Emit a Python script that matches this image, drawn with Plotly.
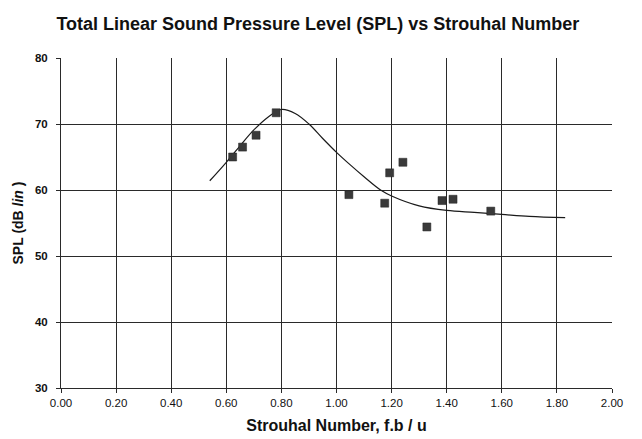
import plotly.graph_objects as go

# measured points
strouhal = [0.623, 0.659, 0.708, 0.781, 1.045, 1.175, 1.193, 1.241, 1.328, 1.383, 1.423, 1.56]
spl = [65.0, 66.5, 68.3, 71.7, 59.3, 58.0, 62.6, 64.2, 54.4, 58.4, 58.6, 56.8]

# fitted curve
curve_x = [0.54, 0.60, 0.65, 0.70, 0.75, 0.80, 0.85, 0.90, 0.95, 1.00, 1.05, 1.10,
           1.16, 1.20, 1.30, 1.40, 1.50, 1.60, 1.70, 1.83]
curve_y = [61.4, 64.2, 66.7, 69.1, 71.0, 72.2, 71.6, 70.0, 67.8, 65.7, 63.8, 62.0,
           60.0, 59.1, 57.6, 56.9, 56.6, 56.3, 56.0, 55.8]

x_ticks = [0.0, 0.2, 0.4, 0.6, 0.8, 1.0, 1.2, 1.4, 1.6, 1.8, 2.0]
x_grid = [0.2, 0.4, 0.6, 0.8, 1.0, 1.2, 1.4, 1.6, 1.8]
y_ticks = [30, 40, 50, 60, 70, 80]
y_grid = [40, 50, 60, 70]

FONT = "Liberation Sans, Arial, sans-serif"
GRID = "#2a2a2a"

fig = go.Figure()
# invisible traces to activate overlay grid axes (drawn first, below data)
fig.add_trace(go.Scatter(x=[None], y=[None], xaxis="x2", yaxis="y2", showlegend=False, hoverinfo="skip"))
fig.add_trace(go.Scatter(x=[None], y=[None], xaxis="x2", yaxis="y3", showlegend=False, hoverinfo="skip"))
fig.add_trace(go.Scatter(x=curve_x, y=curve_y, mode="lines",
                         line=dict(color="#1a1a1a", width=1.2, shape="spline", smoothing=1.0),
                         showlegend=False, hoverinfo="skip"))
fig.add_trace(go.Scatter(x=strouhal, y=spl, mode="markers",
                         marker=dict(symbol="square", size=8, color="#3a3a3a",
                                     line=dict(color="#222", width=0.5)),
                         showlegend=False))

fig.update_layout(
    width=642, height=439,
    margin=dict(l=61, r=30, t=58, b=51),
    paper_bgcolor="white", plot_bgcolor="white",
    font=dict(family=FONT, color="#111"),
    title=dict(text="<b>Total Linear Sound Pressure Level (SPL) vs Strouhal Number</b>",
               x=0.495, xanchor="center", y=0.945, yanchor="middle",
               font=dict(size=18, family=FONT, color="#111")),
    xaxis=dict(range=[0, 2], tickvals=x_ticks, ticktext=[f"{v:.2f}" for v in x_ticks],
               showgrid=False, zeroline=False, showline=True, linecolor=GRID, linewidth=1,
               ticks="outside", ticklen=4, tickcolor=GRID, automargin=False,
               tickfont=dict(size=11.5, family=FONT, color="#111"),
               title=dict(text="<b>Strouhal Number, f.b / u</b>", standoff=12,
                          font=dict(size=16, family=FONT, color="#111"))),
    yaxis=dict(range=[30, 80], tickvals=y_ticks, ticktext=[f"<b>{v}</b>" for v in y_ticks],
               showgrid=False, zeroline=False, automargin=False,
               showline=True, linecolor=GRID, linewidth=1,
               ticks="outside", ticklen=4, tickcolor=GRID, ticklabelstandoff=6,
               tickfont=dict(size=11.5, family=FONT, color="#111"),
               title=dict(text="<b>SPL (dB <i>lin</i> )</b>", standoff=8,
                          font=dict(size=14, family=FONT, color="#111"))),
    xaxis2=dict(range=[0, 2], overlaying="x", side="bottom", tickvals=x_grid,
                showticklabels=False, showgrid=True, gridcolor=GRID, gridwidth=1,
                zeroline=False, showline=False, ticks="", automargin=False),
    yaxis2=dict(range=[30, 80], overlaying="y", side="left", tickvals=y_grid,
                showticklabels=False, showgrid=True, gridcolor=GRID, gridwidth=1,
                zeroline=False, showline=False, ticks="", automargin=False),
    yaxis3=dict(range=[30, 80], overlaying="y", side="left", tickvals=[80],
                showticklabels=False, showgrid=True, gridcolor="#b0b0b0", gridwidth=1,
                griddash="dot", zeroline=False, showline=False, ticks="", automargin=False),
)

fig.write_html("out.html")
